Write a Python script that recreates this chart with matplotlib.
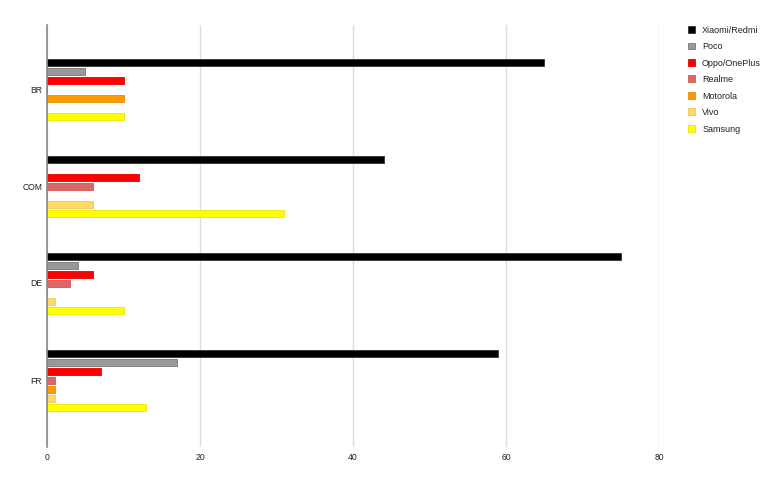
import numpy as np
import matplotlib
matplotlib.use("Agg")
import matplotlib.pyplot as plt
from matplotlib.patches import Patch

plt.rcParams['font.family'] = ['Liberation Sans', 'DejaVu Sans']

regions = ["BR", "COM", "DE", "FR"]
brands = ["Xiaomi/Redmi", "Poco", "Oppo/OnePlus", "Realme", "Motorola", "Vivo", "Samsung"]
colors = ["#000000", "#999999", "#ff0000", "#e06666", "#ff9900", "#ffd966", "#ffff00"]
edges = ["#333333", "#777777", "#e60000", "#cc5555", "#e68a00", "#f0c850", "#e6e600"]

# share per region, one list per brand
xiaomi = [65, 44, 75, 59]
poco = [5, 0, 4, 17]
oppo = [10, 12, 6, 7]
realme = [0, 6, 3, 1]
motorola = [10, 0, 0, 1]
vivo = [0, 6, 1, 1]
samsung = [10, 31, 10, 13]
series = [xiaomi, poco, oppo, realme, motorola, vivo, samsung]

fig = plt.figure(figsize=(7.82, 4.84), dpi=100)
W, H = 782, 484
ax = fig.add_axes([47 / W, 1 - 447 / H, (659 - 47) / W, (447 - 25) / H])

step = 9 / 97.0
bh = 7 / 97.0
y = np.arange(len(regions))
for i, vals in enumerate(series):
    off = (i - 3) * step
    ax.barh(y + off, vals, height=bh, color=colors[i], edgecolor=edges[i],
            linewidth=0.6, zorder=3)

ax.set_xlim(0, 80)
ax.set_ylim(3 + 67 / 97.0, -64 / 97.0)
ax.set_yticks(y)
ax.set_yticklabels(regions)
ax.set_xticks([0, 20, 40, 60, 80])
ax.tick_params(length=0, labelsize=6.2, colors="#222222")
ax.tick_params(axis="x", pad=4.5)
ax.tick_params(axis="y", pad=3.5)
ax.grid(axis="x", color="#dddddd", linewidth=1, zorder=0)
for s in ["top", "right", "bottom"]:
    ax.spines[s].set_visible(False)
ax.spines["left"].set_color("#888888")
ax.spines["left"].set_linewidth(1.2)
ax.spines["left"].set_zorder(4)

handles = [Patch(facecolor=c, edgecolor=e, linewidth=0.6) for c, e in zip(colors, edges)]
fig.legend(handles, brands, loc="upper left", bbox_to_anchor=(684 / W, 1 - 22 / H),
           frameon=False, fontsize=6.5, handlelength=0.8, handleheight=0.8,
           handletextpad=0.8, labelspacing=0.83, borderaxespad=0,
           labelcolor="#222222")

fig.savefig("out.png", dpi=100)
